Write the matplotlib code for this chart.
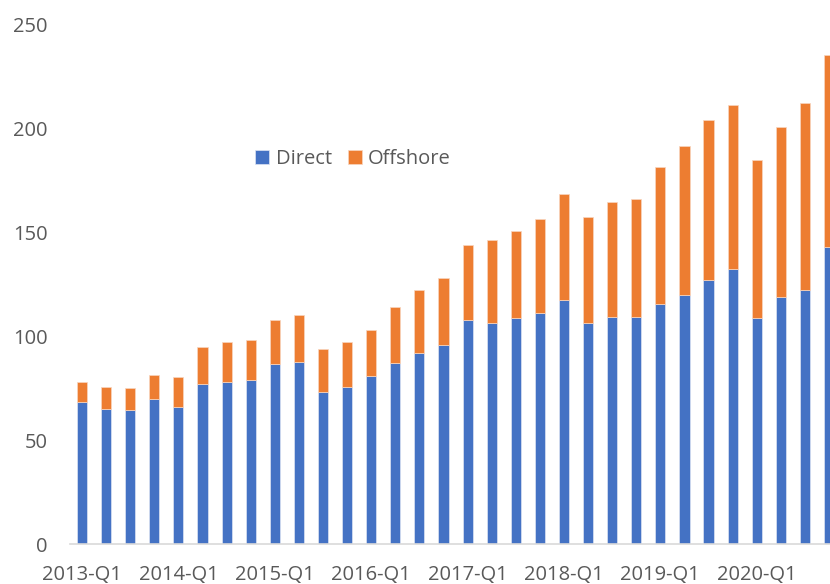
import matplotlib
matplotlib.use("Agg")
import matplotlib.pyplot as plt
import numpy as np

# quarterly values, 2013-Q1 .. 2020-Q4
quarters = ['%d-Q%d' % (y, q) for y in range(2013, 2021) for q in range(1, 5)]
direct = [68.4, 64.9, 64.4, 69.6, 65.9, 77.1, 78.0, 79.0,
          86.7, 87.4, 73.1, 75.6, 80.6, 87.2, 92.0, 95.8,
          107.7, 106.3, 108.8, 111.2, 117.5, 106.4, 109.1, 109.3,
          115.5, 119.9, 127.1, 132.1, 108.8, 118.9, 122.0, 142.9]
offshore = [9.5, 10.6, 10.4, 11.5, 14.5, 17.6, 19.1, 19.2,
            21.1, 22.5, 20.7, 21.7, 22.4, 26.9, 30.0, 32.2,
            36.2, 39.7, 41.5, 45.1, 50.9, 50.7, 55.3, 56.4,
            65.8, 71.5, 76.7, 78.8, 75.7, 81.4, 89.9, 92.0]
y_ticks = [0, 50, 100, 150, 200, 250]

plt.rcParams['font.family'] = ['Open Sans', 'DejaVu Sans']

fig = plt.figure(figsize=(8.3, 5.84), dpi=100)
ax = fig.add_axes([70/830, 40/584, 1 - 70/830, 520/584])

x = np.arange(len(quarters))
w = 0.42
ax.bar(x, direct, w, color='#4472C4', edgecolor='#dde4f3', linewidth=0.5, label='Direct')
ax.bar(x, offshore, w, bottom=direct, color='#ED7D31', edgecolor='#f8d6c0', linewidth=0.5, label='Offshore')

ax.set_xlim(-0.5, 31.04)
ax.set_ylim(0, 250)
ax.set_yticks(y_ticks)
ax.set_xticks(x[::4])
ax.set_xticklabels(quarters[::4])

for s in ['top', 'right', 'left']:
    ax.spines[s].set_visible(False)
ax.spines['bottom'].set_color('#D9D9D9')
ax.spines['bottom'].set_linewidth(1.2)
ax.tick_params(axis='both', length=0, labelsize=14.5, colors='#595959')
ax.tick_params(axis='y', pad=16)
ax.tick_params(axis='x', pad=15)

fig.legend(loc='center', bbox_to_anchor=(353/830, 1 - 159/584), ncol=2, frameon=False,
           fontsize=14.5, handlelength=0.7, handleheight=0.7, handletextpad=0.3,
           columnspacing=0.8, labelcolor='#595959')

fig.savefig('out.png', dpi=100)
